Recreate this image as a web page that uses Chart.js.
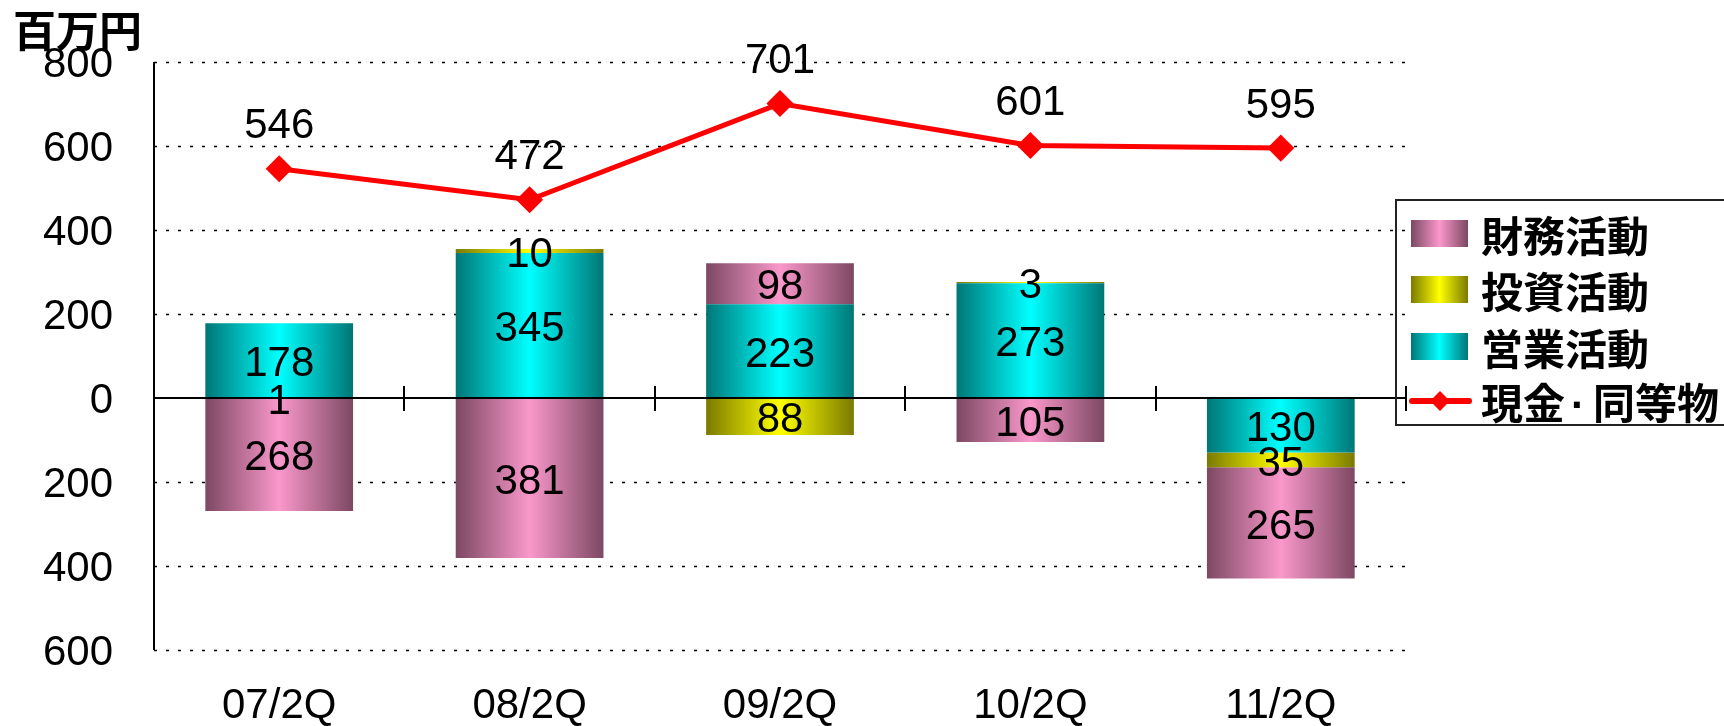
<!DOCTYPE html>
<html>
<head>
<meta charset="utf-8">
<script src="https://cdn.jsdelivr.net/npm/chart.js@4"></script>
<style>
  body { margin: 0; background: #fff; }
  #wrap { position: relative; width: 1724px; height: 726px; overflow: hidden; }
  #unit { position: absolute; left: 13px; top: 3px; font: bold 43px "Noto Sans CJK JP"; line-height: 50px; color: #000; }
  #legend { position: absolute; left: 1395px; top: 199px; width: 340px; height: 227px; border: 2px solid #222; box-sizing: border-box; }
  .item { position: absolute; left: 0; height: 50px; width: 340px; }
  .sw { position: absolute; left: 14px; top: 11px; width: 57px; height: 27px; }
  .txt { position: absolute; left: 84px; top: 0; font: bold 42px "Noto Sans CJK JP"; line-height: 50px; color: #000; white-space: nowrap; }
  .dot { font-family: "Liberation Sans", Arial, sans-serif; margin: 0 8px 0 6px; }
  .ln { position: absolute; left: 12px; top: 22px; width: 63px; height: 6px; background: #ff0000; border-radius: 3px; }
  .dm { position: absolute; left: 36px; top: 18px; width: 14px; height: 14px; background: #ff0000; transform: rotate(45deg); }
</style>
</head>
<body>
<div id="wrap">
  <canvas id="chart" width="1724" height="726"></canvas>
  <div id="unit">百万円</div>
  <div id="legend"></div>
</div>
<script>
const categories = ['07/2Q', '08/2Q', '09/2Q', '10/2Q', '11/2Q'];
const operating = [178, 345, 223, 273, -130];
const investing = [-1, 10, -88, 3, -35];
const financing = [-268, -381, 98, -105, -265];
const cash = [546, 472, 701, 601, 595];

const seriesNames = ['営業活動', '投資活動', '財務活動', '現金·同等物'];
const barPct = 0.59;
const numFont = '42px "Liberation Sans", Arial, sans-serif';

// dark edge -> bright middle -> dark edge, like the old Excel fill
function grad(dark, light) {
    return (c) => {
        const chart = c.chart;
        if (!chart.chartArea || c.dataIndex === undefined) return light;
        const xs = chart.scales.x;
        const cx = xs.getPixelForValue(c.dataIndex);
        const w = xs.width / categories.length * barPct;
        const g = chart.ctx.createLinearGradient(cx - w / 2, 0, cx + w / 2, 0);
        g.addColorStop(0, dark);
        g.addColorStop(0.5, light);
        g.addColorStop(1, dark);
        return g;
    };
}

const decor = {
    id: 'decor',
    beforeDatasetsDraw(chart) {
        const {ctx, chartArea: a, scales: {y}} = chart;
        ctx.save();
        ctx.strokeStyle = '#000';
        ctx.lineWidth = 1.5;
        ctx.setLineDash([3, 9]);
        y.ticks.forEach(t => {
            if (t.value === 0) return;
            const py = Math.round(y.getPixelForValue(t.value)) + 0.5;
            ctx.beginPath();
            ctx.moveTo(a.left, py);
            ctx.lineTo(a.right, py);
            ctx.stroke();
        });
        ctx.setLineDash([]);
        ctx.lineWidth = 2;
        ctx.beginPath();
        ctx.moveTo(a.left, a.top);
        ctx.lineTo(a.left, a.bottom);
        ctx.stroke();
        ctx.restore();
    },
    afterDatasetsDraw(chart) {
        const {ctx, chartArea: a, scales: {x, y}} = chart;
        ctx.save();
        // zero axis with category ticks
        const y0 = Math.round(y.getPixelForValue(0));
        ctx.strokeStyle = '#000';
        ctx.lineWidth = 2;
        ctx.beginPath();
        ctx.moveTo(a.left, y0);
        ctx.lineTo(a.right, y0);
        ctx.stroke();
        const step = x.width / categories.length;
        for (let i = 1; i <= categories.length; i++) {
            const px = Math.round(a.left + i * step);
            ctx.beginPath();
            ctx.moveTo(px, y0 - 12);
            ctx.lineTo(px, y0 + 13);
            ctx.stroke();
        }
        // value labels
        ctx.fillStyle = '#000';
        ctx.font = numFont;
        ctx.textAlign = 'center';
        ctx.textBaseline = 'middle';
        chart.data.datasets.forEach((ds, di) => {
            const meta = chart.getDatasetMeta(di);
            meta.data.forEach((el, i) => {
                const v = ds.data[i];
                if (ds.type === 'line') {
                    ctx.fillText(String(v), el.x, el.y - 42);
                } else {
                    ctx.fillText(String(Math.abs(v)), el.x, (el.y + el.base) / 2 + 4);
                }
            });
        });
        ctx.restore();
    }
};

new Chart('chart', {
    data: {
        labels: categories,
        datasets: [
            {
                type: 'line',
                label: seriesNames[3],
                data: cash,
                stack: 'cash',
                borderColor: '#ff0000',
                backgroundColor: '#ff0000',
                borderWidth: 5,
                pointStyle: 'rectRot',
                pointRadius: 10,
                order: 0
            },
            { type: 'bar', label: seriesNames[0], data: operating, stack: 'flow', backgroundColor: grad('#007676', '#00ffff'), order: 1 },
            { type: 'bar', label: seriesNames[1], data: investing, stack: 'flow', backgroundColor: grad('#7a7a00', '#ffff00'), order: 1 },
            { type: 'bar', label: seriesNames[2], data: financing, stack: 'flow', backgroundColor: grad('#7c4862', '#fa98cb'), order: 1 }
        ]
    },
    options: {
        responsive: false,
        animation: false,
        events: [],
        categoryPercentage: 1,
        barPercentage: barPct,
        layout: { padding: { top: 62, right: 318, left: 0, bottom: 0 } },
        plugins: { legend: { display: false }, tooltip: { enabled: false } },
        scales: {
            x: {
                stacked: true,
                grid: { display: false },
                border: { display: false },
                ticks: { color: '#000', font: { family: '"Liberation Sans", Arial, sans-serif', size: 42 }, padding: 23, maxRotation: 0 },
                afterFit: (s) => { s.height = 76; }
            },
            y: {
                stacked: true,
                min: -600,
                max: 800,
                grid: { display: false },
                border: { display: false },
                ticks: {
                    stepSize: 200,
                    color: '#000',
                    padding: 33,
                    labelOffset: 3,
                    font: { family: '"Liberation Sans", Arial, sans-serif', size: 42 },
                    callback: (v) => String(Math.abs(v))
                },
                afterFit: (s) => { s.width = 154; }
            }
        }
    },
    plugins: [decor]
});

// legend
const legendItems = [
    { name: seriesNames[2], fill: 'linear-gradient(to right, #7c4862, #fa98cb, #7c4862)' },
    { name: seriesNames[1], fill: 'linear-gradient(to right, #7a7a00, #ffff00, #7a7a00)' },
    { name: seriesNames[0], fill: 'linear-gradient(to right, #007676, #00ffff, #007676)' },
    { name: seriesNames[3], line: true }
];
const legendTops = [8, 64, 121, 175];
const legend = document.getElementById('legend');
legendItems.forEach((it, i) => {
    const row = document.createElement('div');
    row.className = 'item';
    row.style.top = legendTops[i] + 'px';
    const mark = it.line
        ? '<div class="ln"></div><div class="dm"></div>'
        : '<div class="sw" style="background:' + it.fill + '"></div>';
    const label = it.name.replace('·', '<span class="dot">·</span>');
    row.innerHTML = mark + '<div class="txt">' + label + '</div>';
    legend.appendChild(row);
});
</script>
</body>
</html>
